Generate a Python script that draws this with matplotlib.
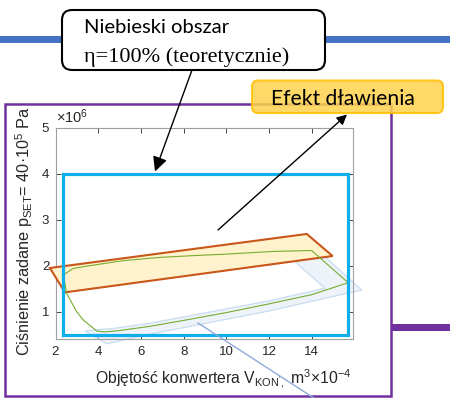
import matplotlib
matplotlib.use("Agg")
import matplotlib.pyplot as plt
from matplotlib.patches import Polygon, FancyBboxPatch, FancyArrowPatch, Rectangle
from matplotlib.lines import Line2D
from matplotlib.transforms import Affine2D

plt.rcParams["font.family"] = ["Liberation Sans", "DejaVu Sans"]
plt.rcParams["mathtext.default"] = "regular"

# ---- data (volume in 1e-4 m^3, pressure in Pa) ----
ideal_v = [2.34, 15.71, 15.71, 2.34, 2.34]
ideal_p = [0.50e6, 0.50e6, 4.00e6, 4.00e6, 0.50e6]

throttle_v = [1.74, 2.44, 14.98, 13.77]
throttle_p = [1.95e6, 1.42e6, 2.21e6, 2.69e6]

cycle_v = [2.37, 2.83, 3.46, 5.18, 6.89, 8.50, 9.94, 12.20, 14.00, 15.71,
           14.00, 12.00, 10.00, 8.00, 6.40, 5.00, 4.30, 3.93, 3.30, 2.99, 2.52, 2.37]
cycle_p = [1.80e6, 1.94e6, 1.99e6, 2.11e6, 2.18e6, 2.22e6, 2.25e6, 2.31e6, 2.33e6, 1.63e6,
           1.37e6, 1.17e6, 0.98e6, 0.81e6, 0.68e6, 0.59e6, 0.56e6, 0.58e6, 0.82e6, 1.00e6, 1.40e6, 1.80e6]

band_v = [3.38, 4.40, 6.43, 12.05, 16.34, 13.92, 13.30, 14.62, 12.05, 6.43, 4.60, 3.90]
band_p = [0.58e6, 0.30e6, 0.51e6, 1.02e6, 1.47e6, 2.49e6, 2.05e6, 1.51e6, 1.24e6, 0.75e6, 0.63e6, 0.61e6]

x_ticks = [2, 4, 6, 8, 10, 12, 14]
y_ticks = [1e6, 2e6, 3e6, 4e6, 5e6]
y_tick_labels = ["1", "2", "3", "4", "5"]

W, H = 450, 398
fig = plt.figure(figsize=(W / 100, H / 100), dpi=100)
# pixel coordinates with origin at top-left
pix = Affine2D().scale(1 / W, -1 / H).translate(0, 1) + fig.transFigure

# slide decorations behind the chart
fig.add_artist(Rectangle((0, 36), 450, 6.5, transform=pix, color="#4472C4", lw=0, zorder=0))
fig.add_artist(Rectangle((391, 324), 59, 7, transform=pix, color="#7030A0", lw=0, zorder=0))
fig.add_artist(Rectangle((4.5, 103.5), 386.5, 292.5, transform=pix, fill=False,
                         ec="#7030A0", lw=1.8, zorder=0))

# axes
ax_l, ax_r, ax_t, ax_b = 55.5, 353.3, 127.7, 338.5
ax = fig.add_axes([ax_l / W, 1 - ax_b / H, (ax_r - ax_l) / W, (ax_b - ax_t) / H])
ax.set_xlim(2, 15.95)
ax.set_ylim(0.417e6, 5e6)
ax.set_xticks(x_ticks)
ax.set_xticklabels([str(t) for t in x_ticks])
ax.set_yticks(y_ticks)
ax.set_yticklabels(y_tick_labels)
ax.tick_params(direction="in", length=3.5, width=0.6, color="#262626", labelcolor="#262626",
               labelsize=9.5, top=True, right=True)
ax.tick_params(axis="x", pad=5.5)
ax.tick_params(axis="y", pad=4.5)
for s in ax.spines.values():
    s.set_color("#a0a0a0")
    s.set_linewidth(0.8)

# lightly shaded band
ax.add_patch(Polygon(list(zip(band_v, band_p)), closed=True, fc="#e3ecf8", ec="#a9cbea",
                     lw=0.9, alpha=0.6, clip_on=False, zorder=2))
# throttling region
ax.add_patch(Polygon(list(zip(throttle_v, throttle_p)), closed=True, fc="#fff2cc", ec="#c9561a",
                     lw=1.5, clip_on=False, zorder=3))
# working cycle
ax.plot(cycle_v, cycle_p, color="#77ac30", lw=0.8, zorder=4, clip_on=False)
# ideal area
ax.plot(ideal_v, ideal_p, color="#10aeea", lw=2.3, zorder=5, solid_joinstyle="miter")

fig.text(56 / W, 1 - 123.5 / H, r"$\times$10$^{6}$", fontsize=10.5, color="#262626",
         ha="left", va="baseline")
fig.text(24 / W, 1 - 231.5 / H, "Ciśnienie zadane p$_{SET}$= 40·10$^{5}$ Pa", rotation=90,
         fontsize=11.7, color="#262626", ha="center", va="center")
fig.text(95 / W, 1 - 384 / H, "Objętość konwertera V$_{KON',}$ m$^{3}$$\\times$10$^{-4}$",
         fontsize=11.3, color="#262626", ha="left", va="baseline")

# connector line toward lower annotation
fig.add_artist(Line2D([198, 320], [323, 402], transform=pix, color="#8eaadb", lw=1.0, zorder=6))

# callout: blue region
fig.add_artist(FancyArrowPatch((192, 70), (155, 171.5), transform=pix, arrowstyle="-|>",
                               mutation_scale=22, color="black", lw=1.0, zorder=7,
                               shrinkA=0, shrinkB=0))
fig.add_artist(FancyBboxPatch((62, 10), 263, 60, transform=pix,
                              boxstyle="round,pad=0,rounding_size=10",
                              fc="white", ec="black", lw=1.5, zorder=8))
fig.text(84 / W, 1 - 33.3 / H, "Niebieski obszar", fontsize=14.6, family=["Lato", "DejaVu Sans"],
         ha="left", va="baseline", zorder=9)
fig.text(84 / W, 1 - 62 / H, "η=100% (teoretycznie)", fontsize=16,
         family=["Liberation Serif", "DejaVu Serif"], ha="left", va="baseline", zorder=9)

# callout: throttling effect
fig.add_artist(FancyArrowPatch((218, 230), (347, 114.5), transform=pix, arrowstyle="-|>",
                               mutation_scale=15, color="black", lw=1.0, zorder=7,
                               shrinkA=0, shrinkB=0))
fig.add_artist(FancyBboxPatch((252, 80.5), 191, 32.5, transform=pix,
                              boxstyle="round,pad=0,rounding_size=6",
                              fc="#ffd34e", ec="#ffc000", lw=1.5, alpha=0.85, zorder=8))
fig.text(343 / W, 1 - 105 / H, "Efekt dławienia", fontsize=15.2, family=["Lato", "DejaVu Sans"],
         ha="center", va="baseline", zorder=9)

fig.savefig("out.png", dpi=100)
